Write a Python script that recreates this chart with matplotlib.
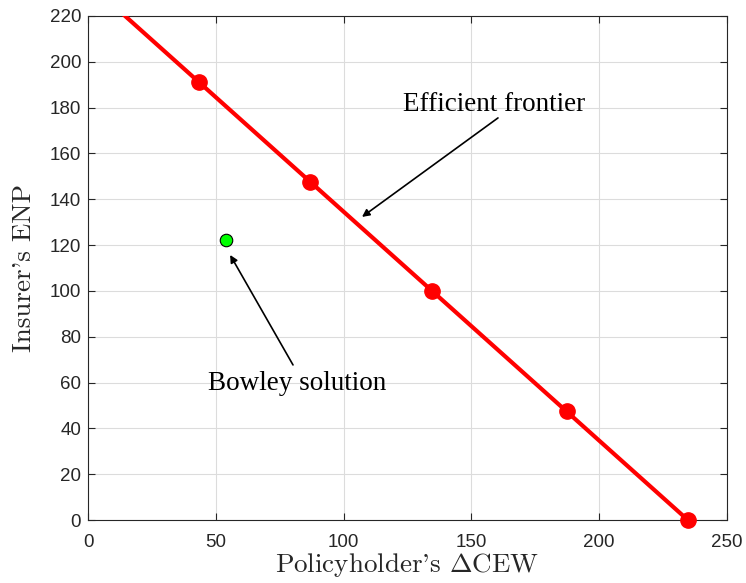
import matplotlib
matplotlib.use("Agg")
import matplotlib.pyplot as plt

plt.rcParams['mathtext.fontset'] = 'cm'
plt.rcParams['axes.unicode_minus'] = False

# Efficient frontier line and points
frontier_line_x = [14.5, 234.7]
frontier_line_y = [220.0, 0.0]
frontier_pts_x = [43.4, 86.9, 134.6, 187.4, 234.7]
frontier_pts_y = [191.2, 147.6, 100.0, 47.5, 0.0]
# Bowley solution
bowley_x = [54.0]
bowley_y = [122.4]

xticks = [0, 50, 100, 150, 200, 250]
yticks = [0, 20, 40, 60, 80, 100, 120, 140, 160, 180, 200, 220]

fig = plt.figure(figsize=(7.46, 5.83), dpi=100)
ax = fig.add_axes([0.118, 0.108, 0.8565, 0.8646])

ax.plot(frontier_line_x, frontier_line_y, color=(1, 0, 0), lw=3, zorder=3, clip_on=True)
ax.plot(frontier_pts_x, frontier_pts_y, 'o', color=(1, 0, 0), ms=11, zorder=4, clip_on=False)
ax.plot(bowley_x, bowley_y, 'o', markerfacecolor=(0, 1, 0), markeredgecolor='black',
        markeredgewidth=0.8, ms=9, zorder=5)

ax.set_xlim(0, 250)
ax.set_ylim(0, 220)
ax.set_xticks(xticks)
ax.set_yticks(yticks)
ax.tick_params(direction='in', top=True, right=True, length=5, width=0.8,
               labelsize=13.5, colors='#262626')
ax.tick_params(axis='x', pad=10)
ax.tick_params(axis='y', pad=5)
for lab in ax.get_xticklabels() + ax.get_yticklabels():
    lab.set_fontfamily('Liberation Sans')
ax.grid(True, color='#dcdcdc', lw=0.8)
ax.set_axisbelow(True)
for s in ax.spines.values():
    s.set_color('#262626')
    s.set_linewidth(0.8)

ax.set_xlabel(r"Policyholder's $\Delta$CEW", fontfamily='cmr10', fontsize=19.5, labelpad=0, color='#262626')
ax.set_ylabel(r"Insurer's ENP", fontfamily='cmr10', fontsize=19.5, labelpad=10, color='#262626')

ax.text(159, 181.5, "Efficient frontier", ha='center', va='center',
        fontfamily='Liberation Serif', fontsize=19.5)
ax.annotate("", xy=(107.2, 132.3), xytext=(160.4, 175.5),
            arrowprops=dict(arrowstyle='-|>', color='black', lw=1.2, mutation_scale=11,
                            shrinkA=0, shrinkB=0))
ax.text(81.8, 59.5, "Bowley solution", ha='center', va='center',
        fontfamily='Liberation Serif', fontsize=19.5)
ax.annotate("", xy=(55.6, 115.7), xytext=(80.2, 67.7),
            arrowprops=dict(arrowstyle='-|>', color='black', lw=1.2, mutation_scale=11,
                            shrinkA=0, shrinkB=0))

fig.savefig("out.png", dpi=100)
